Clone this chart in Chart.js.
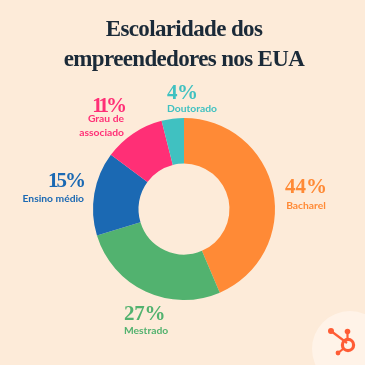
<!DOCTYPE html>
<html>
<head>
<meta charset="utf-8">
<script src="https://cdn.jsdelivr.net/npm/chart.js@4"></script>
<style>
  html, body { margin: 0; padding: 0; background: #fdebd9; }
  #wrap { position: relative; width: 365px; height: 365px; overflow: hidden; }
</style>
</head>
<body>
<div id="wrap"><canvas id="chart" width="365" height="365"></canvas></div>
<script>
// Data
const categories = ['Bacharel', 'Mestrado', 'Ensino médio', 'Grau de associado', 'Doutorado'];
const shares = [44, 27, 15, 11, 4];
const shareLabels = ['44%', '27%', '15%', '11%', '4%'];
const sliceColors = ['#ff8a36', '#52b26f', '#1b69b3', '#ff2f76', '#40c1c1'];
const titleLines = ['Escolaridade dos', 'empreendedores nos EUA'];

const serif = '"Liberation Serif", serif';
const sans = 'Lato, "Noto Sans", sans-serif';

// Where each slice's caption sits: x, y of the percentage, then the name lines
const captions = [
  { x: 306, y: 193, align: 'center', name: ['Bacharel'], nameY: 209, spacing: '0px' },
  { x: 124, y: 320, align: 'left', name: ['Mestrado'], nameY: 334, spacing: '-0.3px' },
  { x: 84, y: 187, align: 'right', name: ['Ensino médio'], nameY: 202, spacing: '-2px' },
  { x: 124, y: 112, align: 'right', name: ['Grau de', 'associado'], nameY: 122, spacing: '-3px' },
  { x: 167, y: 99, align: 'left', name: ['Doutorado'], nameY: 112, spacing: '-0.5px' }
];

// Title, slice captions and the corner logo
const annotations = {
  id: 'annotations',
  afterDraw(chart) {
    const ctx = chart.ctx;
    ctx.save();
    ctx.textBaseline = 'alphabetic';
    ctx.textAlign = 'center';

    ctx.fillStyle = '#1b2a38';
    ctx.font = 'bold 23px ' + serif;
    ctx.letterSpacing = '-0.65px';
    ctx.fillText(titleLines[0], 184, 36);
    ctx.fillText(titleLines[1], 184, 66);

    captions.forEach((c, i) => {
      ctx.fillStyle = sliceColors[i];
      ctx.textAlign = c.align;
      ctx.font = 'bold 21px ' + serif;
      ctx.letterSpacing = c.spacing;
      ctx.fillText(shareLabels[i], c.x, c.y);
      ctx.font = 'bold 10.3px ' + sans;
      ctx.letterSpacing = '0px';
      c.name.forEach((line, j) => ctx.fillText(line, c.x, c.nameY + j * 14));
    });

    // HubSpot style mark
    ctx.fillStyle = '#fff3e8';
    ctx.beginPath();
    ctx.arc(350, 349, 38, 0, Math.PI * 2);
    ctx.fill();
    ctx.strokeStyle = '#ff5c35';
    ctx.fillStyle = '#ff5c35';
    ctx.lineWidth = 2.2;
    ctx.beginPath();
    ctx.moveTo(331, 331);
    ctx.lineTo(347, 343);
    ctx.moveTo(347.5, 332);
    ctx.lineTo(347.5, 340);
    ctx.moveTo(338, 353);
    ctx.lineTo(343, 349);
    ctx.stroke();
    [[331, 331, 3], [347.5, 331.5, 2.8], [338, 353, 2.4]].forEach(p => {
      ctx.beginPath();
      ctx.arc(p[0], p[1], p[2], 0, Math.PI * 2);
      ctx.fill();
    });
    ctx.lineWidth = 3.2;
    ctx.beginPath();
    ctx.arc(348, 345, 5.6, 0, Math.PI * 2);
    ctx.stroke();
    ctx.restore();
  }
};

new Chart(document.getElementById('chart'), {
  type: 'doughnut',
  data: {
    labels: categories,
    datasets: [{
      data: shares,
      backgroundColor: sliceColors,
      borderWidth: 0
    }]
  },
  options: {
    responsive: false,
    animation: false,
    cutout: '50%',
    layout: { padding: { left: 93, right: 90, top: 118, bottom: 65 } },
    plugins: {
      legend: { display: false },
      tooltip: { enabled: false }
    }
  },
  plugins: [annotations]
});
</script>
</body>
</html>
